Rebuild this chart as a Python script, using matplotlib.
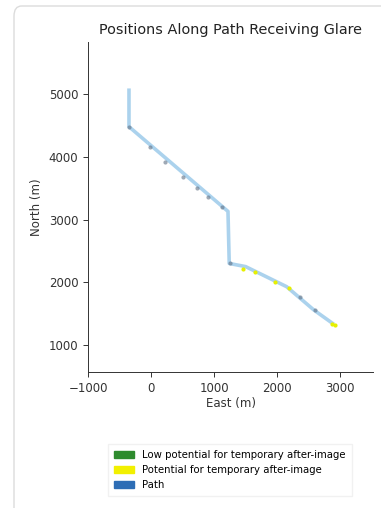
import matplotlib
matplotlib.use("Agg")
import matplotlib.pyplot as plt
from matplotlib.patches import Patch, FancyBboxPatch

# Path vertices (East, North) in metres
path_east = [-350, -350, 1220, 1240, 1500, 2150, 2580, 2900]
path_north = [5090, 4480, 3130, 2300, 2250, 1930, 1560, 1330]

# Sample positions along path (no glare)
pt_east = [-350, -16, 222, 513, 725, 910, 1122, 1250, 2365, 2603]
pt_north = [4480, 4151, 3921, 3683, 3497, 3363, 3204, 2302, 1770, 1558]

# Positions with potential for temporary after-image
yel_east = [1465, 1651, 1968, 2195, 2868, 2920]
yel_north = [2206, 2168, 2009, 1904, 1335, 1325]

legend_labels = ["Low potential for temporary after-image",
                 "Potential for temporary after-image",
                 "Path"]
legend_colors = ["#2e8b2e", "#f2f000", "#2d6db5"]

fig = plt.figure(figsize=(3.81, 5.08), dpi=100)
W, H = 381, 508
card = FancyBboxPatch((14 / W, 1 - 520 / H), 420 / W, 514 / H,
                      boxstyle="round,pad=0,rounding_size=0.02",
                      transform=fig.transFigure, facecolor="white",
                      edgecolor="#dcdcdc", linewidth=1.0, zorder=-10)
fig.patches.append(card)

ax = fig.add_axes([88 / W, 1 - 372 / H, 285 / W, 330 / H])
ax.set_facecolor("none")
ax.plot(path_east, path_north, color="#9dcbea", lw=2.6, alpha=0.85,
        solid_capstyle="butt", zorder=2)
ax.scatter(pt_east, pt_north, s=9, color="#5f7084", alpha=0.6, lw=0, zorder=3)
ax.scatter(yel_east, yel_north, s=9, color="#e6f000", lw=0, zorder=4)

ax.set_xlim(-1000, 3520)
ax.set_ylim(570, 5830)
ax.set_xticks([-1000, 0, 1000, 2000, 3000])
ax.set_yticks([1000, 2000, 3000, 4000, 5000])
ax.tick_params(labelsize=8.5, length=3.5, width=0.7, colors="#333333")
for s in ["top", "right"]:
    ax.spines[s].set_visible(False)
for s in ["left", "bottom"]:
    ax.spines[s].set_linewidth(0.7)
    ax.spines[s].set_color("#333333")
ax.set_xlabel("East (m)", fontsize=8.5, color="#333333", labelpad=2)
ax.set_ylabel("North (m)", fontsize=8.5, color="#333333", labelpad=4)
ax.set_title("Positions Along Path Receiving Glare", fontsize=10.4,
             color="#222222", pad=6)

handles = [Patch(color=c, label=l) for c, l in zip(legend_colors, legend_labels)]
fig.legend(handles=handles, loc="center", bbox_to_anchor=(230 / W, 1 - 470 / H),
           fontsize=7.3, frameon=True, fancybox=False, edgecolor="#eeeeee",
           handlelength=2.0, handleheight=0.6, labelspacing=0.5,
           borderpad=0.55, handletextpad=0.8)

fig.savefig("out.png", dpi=100)
